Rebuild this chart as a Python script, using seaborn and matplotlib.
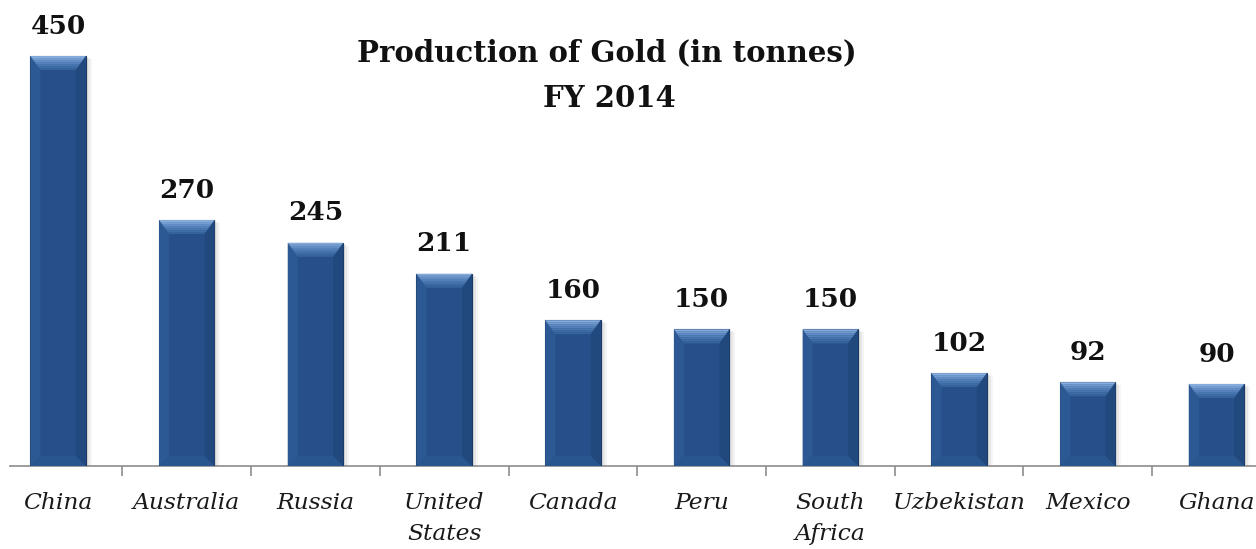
import numpy as np
import pandas as pd
import matplotlib
matplotlib.use("Agg")
import matplotlib.pyplot as plt
from matplotlib.patches import Polygon, Rectangle
import seaborn as sns

countries = ["China", "Australia", "Russia", "United\nStates", "Canada", "Peru",
             "South\nAfrica", "Uzbekistan", "Mexico", "Ghana"]
production = [450, 270, 245, 211, 160, 150, 150, 102, 92, 90]
title_lines = ["Production of Gold (in tonnes)", "FY 2014"]

sns.set_theme(style="white")
plt.rcParams["font.family"] = ["DejaVu Serif"]

W, H = 1256, 549
fig = plt.figure(figsize=(W / 100, H / 100), dpi=100)
ax = fig.add_axes([10 / W, 83 / H, 1 - 10 / W, 466 / H])

df = pd.DataFrame({"country": countries, "value": production})
face = "#27508A"
sns.barplot(data=df, x="country", y="value", color=face, saturation=1,
            width=0.43, ax=ax, zorder=3, edgecolor="#1B3A66", linewidth=0.8)

ax.set_xticks(np.arange(len(countries) - 1) + 0.5, minor=True)
ax.set_xlim(-0.373, 9.307)
ax.set_ylim(0, 511.5)

# pixel -> data conversions
bbox = ax.get_window_extent()
px_x = (ax.get_xlim()[1] - ax.get_xlim()[0]) / bbox.width
px_y = (ax.get_ylim()[1] - ax.get_ylim()[0]) / bbox.height

bars = list(ax.patches)
for p in bars:
    x0, w, h = p.get_x(), p.get_width(), p.get_height()
    # soft drop shadow
    for k, a in enumerate([0.10, 0.08, 0.06]):
        off = (2 + 2 * k)
        ax.add_patch(Rectangle((x0 + off * px_x, -1), w, h + 1 - off * px_y * 0.5,
                               facecolor="#555555", alpha=a, lw=0, zorder=2))
    bw, bh = 10 * px_x, 14 * px_y
    by = bw / px_x * px_y
    # side bevels
    ax.add_patch(Polygon([(x0, 0), (x0 + bw, by), (x0 + bw, h - bh), (x0, h)],
                         closed=True, facecolor="#2C5993", lw=0, zorder=4))
    ax.add_patch(Polygon([(x0 + w, 0), (x0 + w - bw, by), (x0 + w - bw, h - bh), (x0 + w, h)],
                         closed=True, facecolor="#22497E", lw=0, zorder=4))
    # bottom bevel
    ax.add_patch(Polygon([(x0, 0), (x0 + w, 0), (x0 + w - bw, by), (x0 + bw, by)],
                         closed=True, facecolor="#2A5690", lw=0, zorder=4))
    # top bevel with gradient strips
    cols = ["#86ACDC", "#739CD0", "#628EC5", "#5481BA", "#4876AF", "#3E6CA4", "#35649B"]
    n = len(cols)
    for i in range(n):
        t0 = i / n
        t1 = (i + 1) / n
        pts = [(x0 + bw * t0, h - bh * t0), (x0 + w - bw * t0, h - bh * t0),
               (x0 + w - bw * t1, h - bh * t1), (x0 + bw * t1, h - bh * t1)]
        ax.add_patch(Polygon(pts, closed=True, facecolor=cols[i], lw=0, zorder=5))
    ax.annotate(f"{int(h)}", (x0 + w / 2, h), xytext=(0, 21.5), textcoords="offset points",
                ha="center", va="center", fontsize=19, fontweight="bold",
                color="#111111", zorder=6)

for s in ["top", "left", "right"]:
    ax.spines[s].set_visible(False)
ax.spines["bottom"].set_color("#8C8C8C")
ax.spines["bottom"].set_linewidth(1.2)
ax.set_yticks([])
ax.set_xlabel("")
ax.set_ylabel("")
ax.tick_params(axis="x", which="minor", length=7.5, width=1.2, color="#8C8C8C", bottom=True)
ax.tick_params(axis="x", which="major", length=0, pad=19)
for lab in ax.get_xticklabels():
    lab.set_fontstyle("italic")
    lab.set_fontsize(16.8)
    lab.set_color("#1A1A1A")
    lab.set_linespacing(1.5)

fig.text(607 / W, 1 - 61 / H, title_lines[0], ha="center", va="baseline",
         fontsize=21, fontweight="bold", color="#111111")
fig.text(609 / W, 1 - 107 / H, title_lines[1], ha="center", va="baseline",
         fontsize=21, fontweight="bold", color="#111111")

fig.savefig("out.png", dpi=100)
